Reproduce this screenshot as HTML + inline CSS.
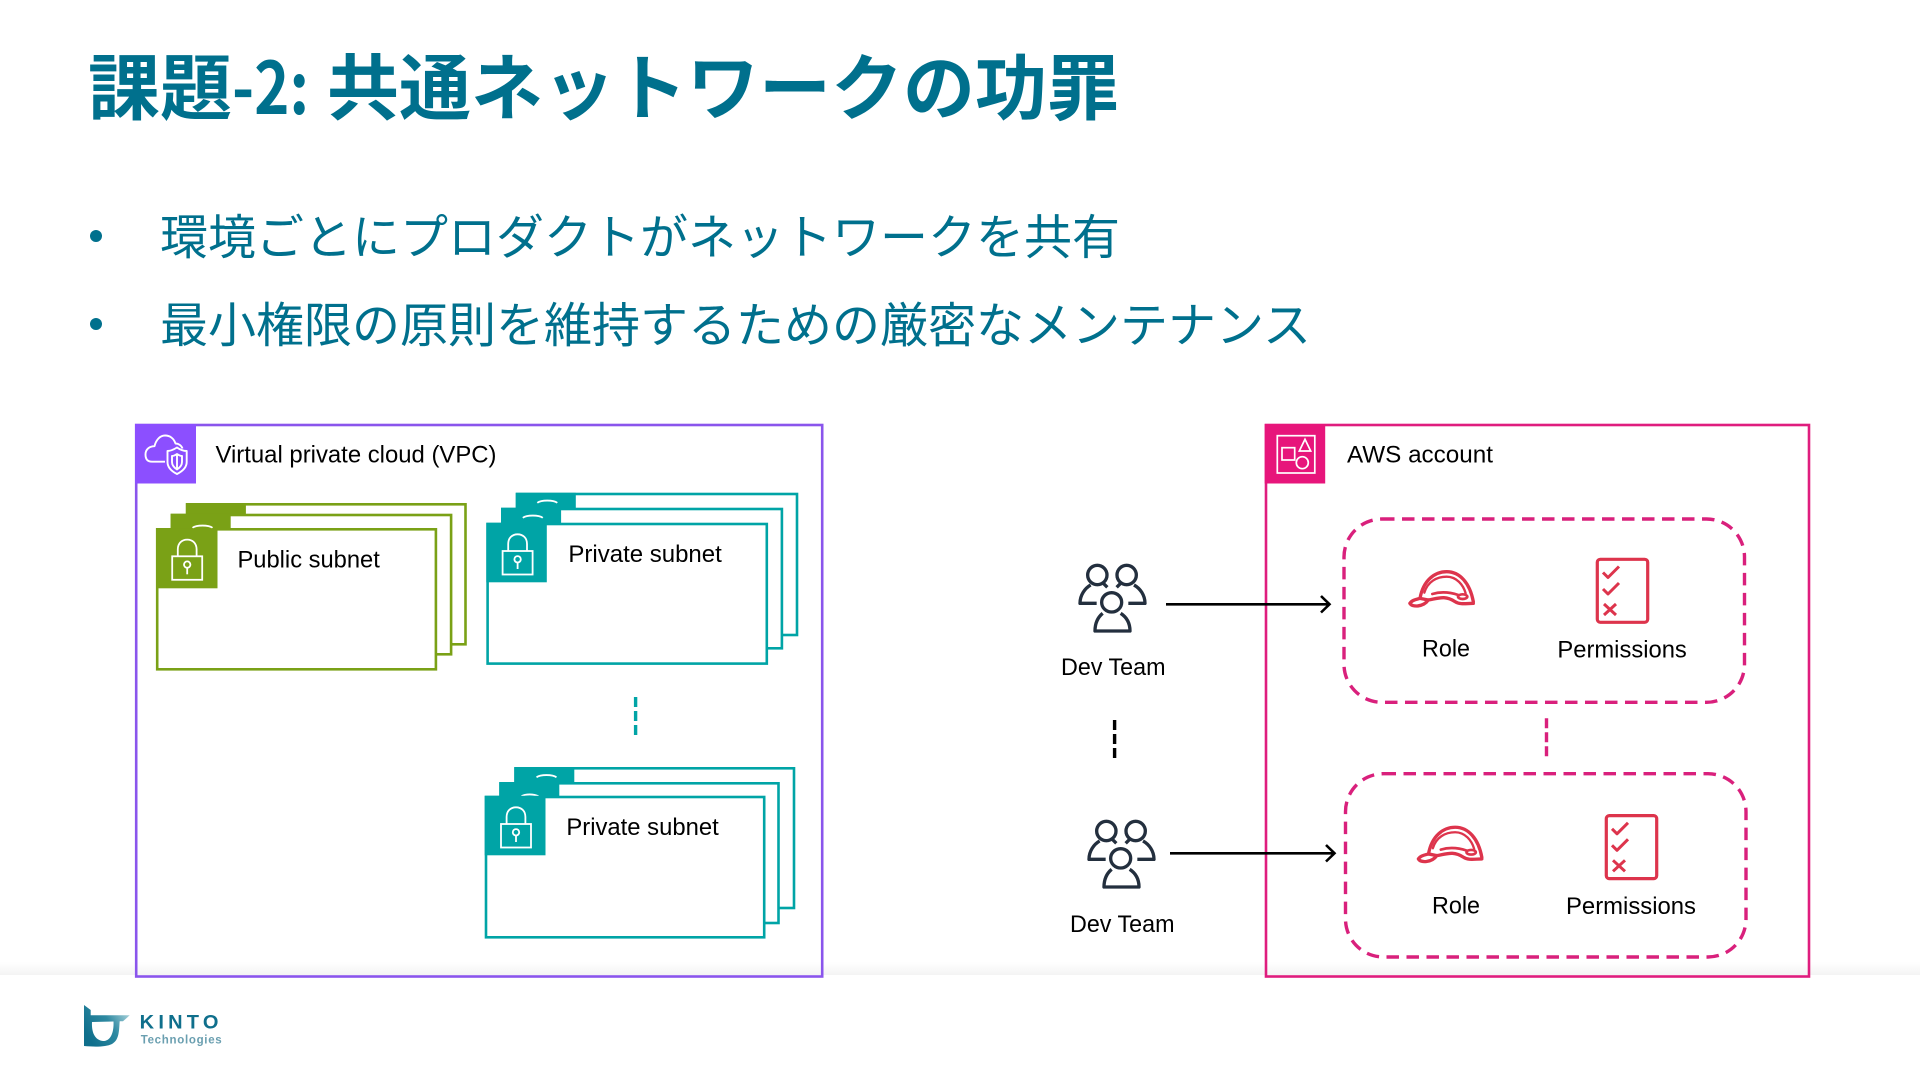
<!DOCTYPE html>
<html lang="ja"><head><meta charset="utf-8"><title>課題-2: 共通ネットワークの功罪</title>
<style>
html,body{margin:0;padding:0;background:#fff}
svg{display:block}
text{font-family:"Liberation Sans","Noto Sans CJK JP",sans-serif;fill:#000;font-size:24px}
.jp{font-family:"Noto Sans CJK JP","Liberation Sans",sans-serif;fill:#00708d}
.t{font-size:72px;font-weight:700}
</style></head><body>
<svg xmlns="http://www.w3.org/2000/svg" width="1920" height="1080" viewBox="0 0 1920 1080">
<defs>
<linearGradient id="fg" x1="0" y1="0" x2="0" y2="1"><stop offset="0" stop-color="#fff"/><stop offset="1" stop-color="#f4f4f4"/></linearGradient>
<linearGradient id="lg" gradientUnits="userSpaceOnUse" x1="90" y1="1040" x2="130" y2="1015"><stop offset="0" stop-color="#0f6f8c"/><stop offset=".55" stop-color="#2f8aa2"/><stop offset="1" stop-color="#a6d0d9"/></linearGradient>
<g id="lock" fill="none" stroke="#fff" stroke-width="1.8">
<rect x="15" y="27" width="30" height="23.5"/>
<path d="M20.6,27V20C20.6,14 24.5,10.3 30,10.3S39.4,14 39.4,20V27"/>
<circle cx="30" cy="35.3" r="3.2"/><path d="M30,38.5V45"/>
</g>
<g id="people" transform="translate(1060,550) scale(.3333)" fill="none" stroke="#232f3e" stroke-width="10" stroke-linejoin="round">
<ellipse cx="112" cy="75" rx="29" ry="29"/><ellipse cx="200" cy="75" rx="29" ry="29"/><ellipse cx="155" cy="157" rx="30" ry="29"/>
<path d="M128,190C110,205 105,225 105,243H210C210,225 205,205 182,190"/>
<path d="M92,105C75,115 60,135 60,160H110"/><path d="M222,105C240,115 255,135 255,160H205"/>
<path d="M130,100L142,112"/><path d="M182,100L170,112"/>
</g>
<g id="helmet" transform="translate(1395,550) scale(.3333)" fill="none" stroke="#dd344c" stroke-width="10" stroke-linejoin="round" stroke-linecap="round">
<path d="M75,145C85,90 120,65 155,65C195,65 225,100 235,155"/>
<path d="M45,160C50,150 65,148 75,145L100,150C130,145 150,135 180,155C195,165 215,160 235,160"/>
<path d="M45,160C50,172 85,172 100,150"/>
<path d="M88,128C98,95 125,80 155,80C185,80 205,105 212,130" stroke-width="7"/>
<path d="M112,132C135,125 160,125 190,135" stroke-width="8"/>
<ellipse cx="203" cy="140" rx="14" ry="7" stroke-width="8"/>
</g>
<g id="check" fill="none" stroke="#dd344c" stroke-linejoin="round">
<rect x="1597.3" y="559.3" width="50.4" height="63" rx="3" stroke-width="3.2"/>
<path d="M1603,572.5L1608,577.5L1619,566.5" stroke-width="3"/>
<path d="M1603,589L1608,594L1619,583" stroke-width="3"/>
<path d="M1604,604L1616,615M1616,604L1604,615" stroke-width="3"/>
</g>
</defs>

<rect x="0" y="962" width="1920" height="13" fill="url(#fg)"/>

<text class="jp t" x="88" y="114">課題</text>
<text class="jp t" x="232" y="114" textLength="77" lengthAdjust="spacingAndGlyphs">-2:</text>
<text class="jp t" x="327" y="114">共通ネットワークの功罪</text>
<circle cx="96" cy="236" r="6" fill="#00708d"/>
<circle cx="96" cy="324" r="6" fill="#00708d"/>
<text class="jp" x="160" y="254" style="font-size:48px">環境ごとにプロダクトがネットワークを共有</text>
<text class="jp" x="160" y="342" style="font-size:48px">最小権限の原則を維持するための厳密なメンテナンス</text>

<!-- VPC -->
<rect x="136.2" y="425" width="686" height="551.5" fill="none" stroke="#8a55ec" stroke-width="2.6"/>
<rect x="135" y="424" width="61" height="59.5" fill="#8c4fff"/>
<g fill="none" stroke="#fff" stroke-width="1.9" stroke-linejoin="round">
<path d="M165,461.7H152C146,461.7 145.5,457 145.5,454.5C145.5,449 150,446.2 154.5,446.2C156,440 160,435.5 165,435.5C170.5,435.5 174,439 175.5,443.5C178.5,443.5 181.5,445.5 182.5,448.5"/>
<path d="M177,447.5C173,450 170.5,451 167.5,451V462C167.5,467.5 172,471.5 177,474C182,471.5 186.7,467.5 186.7,462V451C183.5,451 180.5,450 177,447.5Z"/>
<path d="M172,456V462C172,465.5 174,467.5 177,469.5C180,467.500 182,465.500 182,462V456C180,456 178.500,455 177,454C175.500,455 174,456 172,456Z"/>
<path d="M177,454V469.500"/>
</g>
<text x="215.500" y="462.500" textLength="281" lengthAdjust="spacingAndGlyphs">Virtual private cloud (VPC)</text>

<!-- Public stack -->
<g transform="translate(.5,.3)">
<g stroke="#7aa116" stroke-width="2.600" fill="#fff">
<rect x="186.600" y="504" width="278.400" height="140"/>
<rect x="171.400" y="514.700" width="279.200" height="139.300"/>
<rect x="156.700" y="529" width="278.700" height="140"/>
</g>
<rect x="185.400" y="503" width="60" height="12" fill="#7aa116"/>
<rect x="170.200" y="513.500" width="60" height="16" fill="#7aa116"/>
<path d="M192,527.500C196,524.500 208,524.500 212,527.500" fill="none" stroke="#fff" stroke-width="1.800"/>
<rect x="155.500" y="528" width="61.500" height="60" fill="#7aa116"/>
<use href="#lock" transform="translate(156.700,529)"/>
</g>
<text x="237.500" y="567.500" textLength="142.300" lengthAdjust="spacingAndGlyphs">Public subnet</text>

<!-- Private 1 -->
<g transform="translate(.3,.3)">
<g stroke="#00a4a6" stroke-width="2.600" fill="#fff">
<rect x="516.700" y="493.700" width="280" height="141"/>
<rect x="502" y="508.700" width="279.600" height="139.300"/>
<rect x="487.300" y="523.700" width="279.200" height="139.600"/>
</g>
<rect x="515.500" y="492.500" width="60" height="16" fill="#00a4a6"/>
<path d="M537,502.500C541,499.500 553,499.500 557,502.500" fill="none" stroke="#fff" stroke-width="1.800"/>
<rect x="500.800" y="507.500" width="60" height="16" fill="#00a4a6"/>
<path d="M522.500,517.500C526.500,514.500 538.500,514.500 542.500,517.500" fill="none" stroke="#fff" stroke-width="1.800"/>
<rect x="486" y="522.500" width="60.500" height="59.500" fill="#00a4a6"/>
<use href="#lock" transform="translate(487.300,523.700)"/>
</g>
<text x="568.400" y="561.900" textLength="153.400" lengthAdjust="spacingAndGlyphs">Private subnet</text>

<path d="M635.600,697V736" stroke="#00a4a6" stroke-width="3.400" stroke-dasharray="10,4" fill="none"/>

<!-- Private 2 -->
<g transform="translate(.5,.3)">
<g stroke="#00a4a6" stroke-width="2.600" fill="#fff">
<rect x="515" y="768" width="278.500" height="139.700"/>
<rect x="500" y="783" width="278" height="139.700"/>
<rect x="485.500" y="796.700" width="278.200" height="140.300"/>
</g>
<rect x="513.800" y="767" width="60" height="16" fill="#00a4a6"/>
<path d="M536,777C540,774 552,774 556,777" fill="none" stroke="#fff" stroke-width="1.800"/>
<rect x="498.800" y="782" width="60" height="14" fill="#00a4a6"/>
<path d="M521,796C525,793.500 533,793.500 538,796" fill="none" stroke="#fff" stroke-width="1.800"/>
<rect x="484.200" y="795.500" width="60.800" height="59.500" fill="#00a4a6"/>
<use href="#lock" transform="translate(485.500,796.700)"/>
</g>
<text x="566.400" y="835.200" textLength="152.300" lengthAdjust="spacingAndGlyphs">Private subnet</text>

<!-- Account -->
<rect x="1266" y="425" width="543" height="551.500" fill="none" stroke="#df1d7e" stroke-width="2.600"/>
<rect x="1264.700" y="424" width="60.500" height="59.500" fill="#e7157b"/>
<g fill="none" stroke="#fff" stroke-width="1.700">
<rect x="1277.300" y="435.700" width="37.500" height="37.300"/>
<rect x="1282" y="447.700" width="12.700" height="12.300"/>
<path d="M1305,439.300L1299.300,451H1310.700Z"/>
<circle cx="1302.300" cy="462.700" r="6"/>
</g>
<text x="1347" y="462.300" textLength="146" lengthAdjust="spacingAndGlyphs">AWS account</text>

<rect x="1344" y="519" width="400.500" height="183.300" rx="38" fill="none" stroke="#d9207c" stroke-width="3.400" stroke-dasharray="12.500,7.500"/>
<rect x="1345.500" y="773.700" width="400.500" height="183.300" rx="38" fill="none" stroke="#d9207c" stroke-width="3.400" stroke-dasharray="12.500,7.500"/>
<path d="M1546.500,718.300V757" stroke="#d9207c" stroke-width="3.400" stroke-dasharray="10,4" fill="none"/>
<path d="M1114.600,720V758" stroke="#000" stroke-width="3.400" stroke-dasharray="10,4" fill="none"/>

<path d="M1166,604.300H1329M1321,596L1329.500,604.300L1321,612.500" fill="none" stroke="#000" stroke-width="2.600"/>
<path d="M1170,853.300H1334M1326,845L1334.500,853.300L1326,861.500" fill="none" stroke="#000" stroke-width="2.600"/>

<use href="#people"/>
<use href="#people" transform="translate(9,256)"/>
<use href="#helmet"/>
<use href="#helmet" transform="translate(8.500,255.600)"/>
<use href="#check"/>
<use href="#check" transform="translate(9,256.300)"/>

<text x="1422" y="656.700" textLength="48" lengthAdjust="spacingAndGlyphs">Role</text>
<text x="1557.400" y="657.300" textLength="129.400" lengthAdjust="spacingAndGlyphs">Permissions</text>
<text x="1061" y="675" textLength="104.500" lengthAdjust="spacingAndGlyphs">Dev Team</text>
<text x="1432" y="913.300" textLength="48" lengthAdjust="spacingAndGlyphs">Role</text>
<text x="1566" y="914" textLength="130" lengthAdjust="spacingAndGlyphs">Permissions</text>
<text x="1070" y="932" textLength="104.500" lengthAdjust="spacingAndGlyphs">Dev Team</text>

<!-- Logo -->
<path fill="url(#lg)" fill-rule="evenodd" d="M84,1005L90.700,1010V1015.300H129.700L123,1021.300H119.700C119,1030 119.500,1040 112,1044C106,1047 95,1047 84,1046ZM92,1022C91.500,1031 94,1040 103,1041C111,1041 114,1032 113.500,1021.500Z"/>
<text x="139.700" y="1028.700" style="font-size:19px;font-weight:700;fill:#0f6f8c;letter-spacing:4px" textLength="83" lengthAdjust="spacingAndGlyphs">KINTO</text>
<text x="140.700" y="1043.700" style="font-size:11.500px;font-weight:700;fill:#6a9fb0" textLength="81">Technologies</text>
</svg>
</body></html>
